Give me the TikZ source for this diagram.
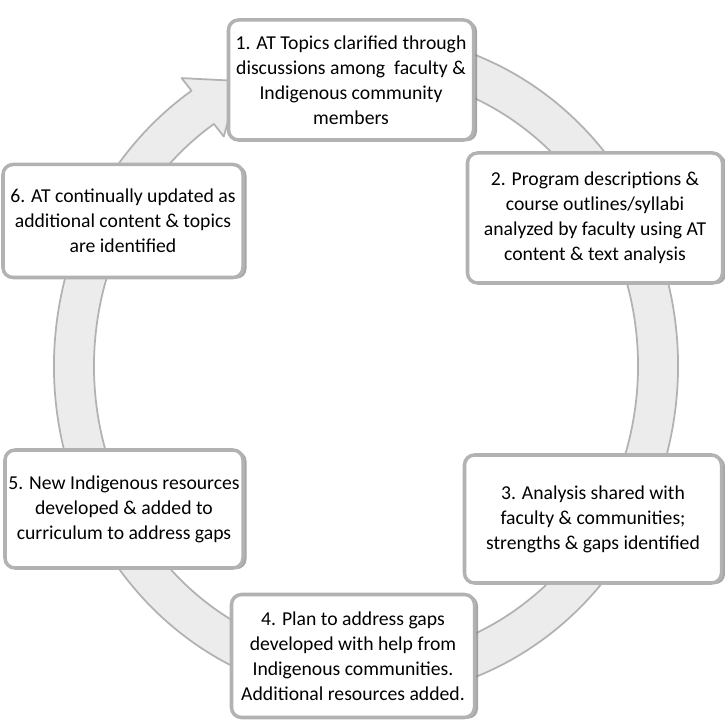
\documentclass[tikz,border=0pt]{standalone}
\usepackage{fontspec}
\setmainfont{Carlito}
\usetikzlibrary{shadows, calc}

\begin{document}
\begin{tikzpicture}[x=0.03cm, y=0.03cm,
        stepbox/.style={draw=gray!60, line width=3pt, fill=white, rounded corners=0.3cm,
            drop shadow={shadow xshift=3pt, shadow yshift=-1pt, opacity=0.7},
            align=center, inner sep=2pt, text=black,
            font=\fontsize{16.8}{21.4}\selectfont},
        ring/.style={fill=gray!15, draw=gray!60, line width=1.5pt, line join=round}]
            \useasboundingbox (0, 0) rectangle (725, 725);

            % the cycle ring behind the boxes
            \coordinate (c) at (366, 359);
            \fill[ring] (c) ++(80:312 and 332)
                arc[start angle=80, end angle=-236, x radius=312, y radius=332]
                -- (181.6, 646.9) -- (239, 644) -- (223.8, 588.5)
                -- ($(c) + (-236:272 and 292)$)
                arc[start angle=-236, end angle=80, x radius=272, y radius=292] -- cycle;

            \node[stepbox, minimum width=7.35cm, minimum height=3.6cm] (s1) at (351, 645)
                {1. AT Topics clarified through\\discussions among~ faculty \&\\Indigenous community\\members};
            \node[stepbox, minimum width=7.65cm, minimum height=3.9cm] (s2) at (595, 507)
                {2. Program descriptions \&\\course outlines/syllabi\\analyzed by faculty using AT\\content \& text analysis};
            \node[stepbox, minimum width=7.71cm, minimum height=3.84cm] (s3) at (593, 206)
                {3. Analysis shared with\\faculty \& communities;\\strengths \& gaps identified};
            \node[stepbox, minimum width=7.29cm, minimum height=3.69cm] (s4) at (353, 69)
                {4. Plan to address gaps\\developed with help from\\Indigenous communities.\\Additional resources added.};
            \node[stepbox, minimum width=7.14cm, minimum height=3.54cm] (s5) at (124, 216)
                {5. New Indigenous resources\\developed \& added to\\curriculum to address gaps};
            \node[stepbox, minimum width=7.2cm, minimum height=3.39cm] (s6) at (123, 504)
                {6. AT continually updated as\\additional content \& topics\\are identified};
        \end{tikzpicture}
\end{document}
